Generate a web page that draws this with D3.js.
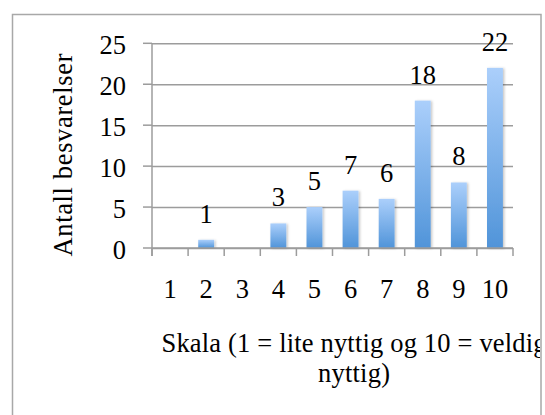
<!DOCTYPE html>
<html>
<head>
<meta charset="utf-8">
<script src="https://cdn.jsdelivr.net/npm/d3@7"></script>
<style>
  html, body { margin: 0; padding: 0; background: #fff; }
  svg { display: block; }
  text { font-family: "Liberation Serif", "Times New Roman", serif; fill: #000; }
</style>
</head>
<body>
<svg id="chart" width="545" height="415"></svg>
<script>
const categories = ["1", "2", "3", "4", "5", "6", "7", "8", "9", "10"];
const values = [0, 1, 0, 3, 5, 7, 6, 18, 8, 22];
const yTicks = [0, 5, 10, 15, 20, 25];
const yTitle = "Antall besvarelser";
const xTitleLines = ["Skala (1 = lite nyttig og 10 = veldig", "nyttig)"];

const data = categories.map((c, i) => ({ cat: c, value: values[i] }));

const svg = d3.select("#chart");
const plot = { left: 152, right: 513, top: 43.3, bottom: 248 };
const gridColor = "#9c9c9c";
const fontSize = 26.5;

const defs = svg.append("defs");
const grad = defs.append("linearGradient")
  .attr("id", "barGrad").attr("x1", 0).attr("y1", 0).attr("x2", 0).attr("y2", 1);
grad.append("stop").attr("offset", "0%").attr("stop-color", "#abcffb");
grad.append("stop").attr("offset", "100%").attr("stop-color", "#5094d9");
const shadow = defs.append("filter").attr("id", "shadow")
  .attr("x", "-50%").attr("y", "-10%").attr("width", "200%").attr("height", "120%");
shadow.append("feDropShadow").attr("dx", 1.5).attr("dy", 0.5)
  .attr("stdDeviation", 1).attr("flood-color", "#000").attr("flood-opacity", 0.22);
defs.append("clipPath").attr("id", "frameClip")
  .append("rect").attr("x", 13).attr("y", 15).attr("width", 527).attr("height", 420);

// frame
svg.append("rect")
  .attr("x", 12.5).attr("y", 14.5).attr("width", 528.5).attr("height", 430)
  .attr("fill", "#fff").attr("stroke", "#a8a8a8").attr("stroke-width", 1.5);

const x = d3.scaleBand().domain(categories).range([plot.left, plot.right]).paddingInner(0.56).paddingOuter(0.28);
const xTicks = d3.scaleBand().domain(categories).range([plot.left, plot.right]);
const y = d3.scaleLinear().domain([0, 25]).range([plot.bottom, plot.top]);

// gridlines
const yAxis = d3.axisLeft(y).tickValues(yTicks).tickSize(-(plot.right - plot.left)).tickFormat("");
const gy = svg.append("g").attr("transform", `translate(${plot.left},0)`).call(yAxis);
gy.select(".domain").remove();
gy.selectAll(".tick line").attr("stroke", gridColor).attr("stroke-width", 1.5);
// y tick marks
svg.append("g").selectAll("line").data(yTicks).join("line")
  .attr("x1", plot.left - 9).attr("x2", plot.left)
  .attr("y1", d => y(d)).attr("y2", d => y(d))
  .attr("stroke", gridColor).attr("stroke-width", 1.5);

// y tick labels
svg.append("g").selectAll("text").data(yTicks).join("text")
  .attr("x", 126).attr("y", d => y(d) + 10.5)
  .attr("text-anchor", "end").attr("font-size", fontSize)
  .text(d => d);

// y axis line
svg.append("line")
  .attr("x1", plot.left).attr("x2", plot.left)
  .attr("y1", plot.top).attr("y2", plot.bottom + 8)
  .attr("stroke", gridColor).attr("stroke-width", 1.5);

// x axis ticks
const tickPos = categories.map(c => xTicks(c)).concat([plot.right]);
svg.append("g").selectAll("line").data(tickPos).join("line")
  .attr("x1", d => d).attr("x2", d => d)
  .attr("y1", plot.bottom).attr("y2", plot.bottom + 8)
  .attr("stroke", gridColor).attr("stroke-width", 1.5);

// bars
svg.append("g").selectAll("rect").data(data.filter(d => d.value > 0)).join("rect")
  .attr("x", d => x(d.cat))
  .attr("width", x.bandwidth())
  .attr("y", d => y(d.value))
  .attr("height", d => y(0) - y(d.value))
  .attr("fill", "url(#barGrad)")
  .attr("filter", "url(#shadow)");

// x axis line
svg.append("line")
  .attr("x1", plot.left).attr("x2", plot.right)
  .attr("y1", plot.bottom).attr("y2", plot.bottom)
  .attr("stroke", gridColor).attr("stroke-width", 1.5);

// data labels
svg.append("g").selectAll("text").data(data.filter(d => d.value > 0)).join("text")
  .attr("x", d => x(d.cat) + x.bandwidth() / 2)
  .attr("y", d => y(d.value) - 17)
  .attr("text-anchor", "middle").attr("font-size", fontSize)
  .text(d => d.value);

// x tick labels
svg.append("g").selectAll("text").data(categories).join("text")
  .attr("x", d => xTicks(d) + xTicks.bandwidth() / 2)
  .attr("y", plot.bottom + 50)
  .attr("text-anchor", "middle").attr("font-size", fontSize)
  .text(d => d);

// y title
svg.append("text")
  .attr("transform", `translate(72,155) rotate(-90)`)
  .attr("text-anchor", "middle").attr("font-size", fontSize)
  .attr("textLength", 203).attr("lengthAdjust", "spacing")
  .text(yTitle);

// x title
const xt = svg.append("g").attr("clip-path", "url(#frameClip)");
xt.append("text")
  .attr("x", 354).attr("y", 351.5)
  .attr("text-anchor", "middle").attr("font-size", fontSize)
  .attr("textLength", 385).attr("lengthAdjust", "spacing")
  .text(xTitleLines[0]);
xt.append("text")
  .attr("x", 354).attr("y", 381.5)
  .attr("text-anchor", "middle").attr("font-size", fontSize)
  .attr("textLength", 72).attr("lengthAdjust", "spacing")
  .text(xTitleLines[1]);
</script>
</body>
</html>
